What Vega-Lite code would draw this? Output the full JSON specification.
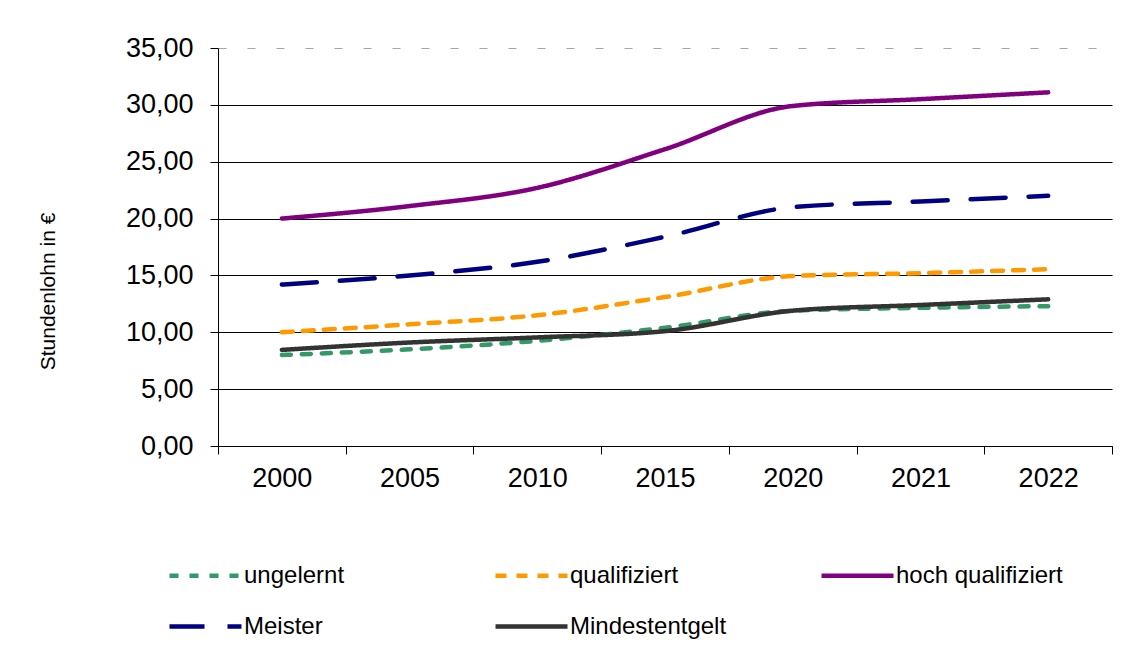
{
  "$schema": "https://vega.github.io/schema/vega-lite/v6.json",
  "autosize": "none",
  "width": 894,
  "height": 398,
  "padding": {"left": 218, "top": 48, "right": 22, "bottom": 207},
  "background": "white",
  "config": {"font": "Liberation Sans", "view": {"stroke": null}},
  "data": {
    "values": [
      {"Jahr": "2000", "Reihe": "ungelernt", "Wert": 8.0},
      {"Jahr": "2005", "Reihe": "ungelernt", "Wert": 8.5},
      {"Jahr": "2010", "Reihe": "ungelernt", "Wert": 9.25},
      {"Jahr": "2015", "Reihe": "ungelernt", "Wert": 10.4},
      {"Jahr": "2020", "Reihe": "ungelernt", "Wert": 11.9},
      {"Jahr": "2021", "Reihe": "ungelernt", "Wert": 12.15},
      {"Jahr": "2022", "Reihe": "ungelernt", "Wert": 12.3},
      {"Jahr": "2000", "Reihe": "qualifiziert", "Wert": 10.0},
      {"Jahr": "2005", "Reihe": "qualifiziert", "Wert": 10.7},
      {"Jahr": "2010", "Reihe": "qualifiziert", "Wert": 11.5},
      {"Jahr": "2015", "Reihe": "qualifiziert", "Wert": 13.1},
      {"Jahr": "2020", "Reihe": "qualifiziert", "Wert": 14.95},
      {"Jahr": "2021", "Reihe": "qualifiziert", "Wert": 15.2},
      {"Jahr": "2022", "Reihe": "qualifiziert", "Wert": 15.55},
      {"Jahr": "2000", "Reihe": "hoch qualifiziert", "Wert": 20.0},
      {"Jahr": "2005", "Reihe": "hoch qualifiziert", "Wert": 21.1},
      {"Jahr": "2010", "Reihe": "hoch qualifiziert", "Wert": 22.7},
      {"Jahr": "2015", "Reihe": "hoch qualifiziert", "Wert": 26.1},
      {"Jahr": "2020", "Reihe": "hoch qualifiziert", "Wert": 29.9},
      {"Jahr": "2021", "Reihe": "hoch qualifiziert", "Wert": 30.5},
      {"Jahr": "2022", "Reihe": "hoch qualifiziert", "Wert": 31.1},
      {"Jahr": "2000", "Reihe": "Meister", "Wert": 14.2},
      {"Jahr": "2005", "Reihe": "Meister", "Wert": 15.0},
      {"Jahr": "2010", "Reihe": "Meister", "Wert": 16.2},
      {"Jahr": "2015", "Reihe": "Meister", "Wert": 18.4},
      {"Jahr": "2020", "Reihe": "Meister", "Wert": 21.0},
      {"Jahr": "2021", "Reihe": "Meister", "Wert": 21.5},
      {"Jahr": "2022", "Reihe": "Meister", "Wert": 22.0},
      {"Jahr": "2000", "Reihe": "Mindestentgelt", "Wert": 8.45},
      {"Jahr": "2005", "Reihe": "Mindestentgelt", "Wert": 9.1},
      {"Jahr": "2010", "Reihe": "Mindestentgelt", "Wert": 9.55},
      {"Jahr": "2015", "Reihe": "Mindestentgelt", "Wert": 10.1},
      {"Jahr": "2020", "Reihe": "Mindestentgelt", "Wert": 11.9},
      {"Jahr": "2021", "Reihe": "Mindestentgelt", "Wert": 12.4},
      {"Jahr": "2022", "Reihe": "Mindestentgelt", "Wert": 12.9}
    ]
  },
  "mark": {"type": "line", "interpolate": "monotone", "strokeWidth": 4.5, "strokeCap": "round"},
  "encoding": {
    "x": {
      "field": "Jahr",
      "type": "ordinal",
      "sort": null,
      "bandPosition": 0.5,
      "scale": {"type": "band", "paddingInner": 0, "paddingOuter": 0},
      "axis": {
        "title": null,
        "labelAngle": 0,
        "labelFontSize": 27,
        "labelColor": "black",
        "labelPadding": 11,
        "tickSize": 8,
        "tickColor": "black",
        "domainColor": "black",
        "tickBand": "extent",
        "grid": false
      }
    },
    "y": {
      "field": "Wert",
      "type": "quantitative",
      "scale": {"domain": [0, 35], "nice": false, "zero": true},
      "axis": {
        "title": "Stundenlohn in €",
        "titleFontSize": 21,
        "titleFontWeight": "normal",
        "titleColor": "black",
        "titleX": -170,
        "titleY": 243,
        "titleAlign": "center",
        "titleBaseline": "middle",
        "values": [0, 5, 10, 15, 20, 25, 30, 35],
        "labelExpr": "replace(format(datum.value, '.2f'), '.', ',')",
        "labelFontSize": 27,
        "labelColor": "black",
        "labelPadding": 17,
        "tickSize": 8,
        "tickColor": "black",
        "domainColor": "black",
        "grid": true,
        "gridColor": {"condition": {"test": "datum.value === 35", "value": "#a6a6a6"}, "value": "black"},
        "gridDash": {"condition": {"test": "datum.value === 35", "value": [8, 21]}, "value": []},
        "gridOpacity": 1
      }
    },
    "color": {
      "field": "Reihe",
      "type": "nominal",
      "scale": {
        "domain": ["ungelernt", "Meister", "qualifiziert", "Mindestentgelt", "hoch qualifiziert"],
        "range": ["#339966", "#000080", "#ff9900", "#333333", "#800080"]
      },
      "legend": {
        "title": null,
        "orient": "none",
        "legendX": -51,
        "legendY": 489,
        "columns": 3,
        "gridAlign": "all",
        "columnPadding": 75,
        "rowPadding": -22,
        "symbolType": "stroke",
        "symbolSize": 5184,
        "symbolStrokeWidth": 4.5,
        "labelFontSize": 24,
        "labelColor": "black",
        "labelOffset": 0,
        "labelLimit": 400
      }
    },
    "strokeDash": {
      "field": "Reihe",
      "type": "nominal",
      "scale": {
        "domain": ["ungelernt", "Meister", "qualifiziert", "Mindestentgelt", "hoch qualifiziert"],
        "range": [[9, 11], [35, 23], [11, 10], [1, 0], [1, 0]]
      }
    }
  }
}
